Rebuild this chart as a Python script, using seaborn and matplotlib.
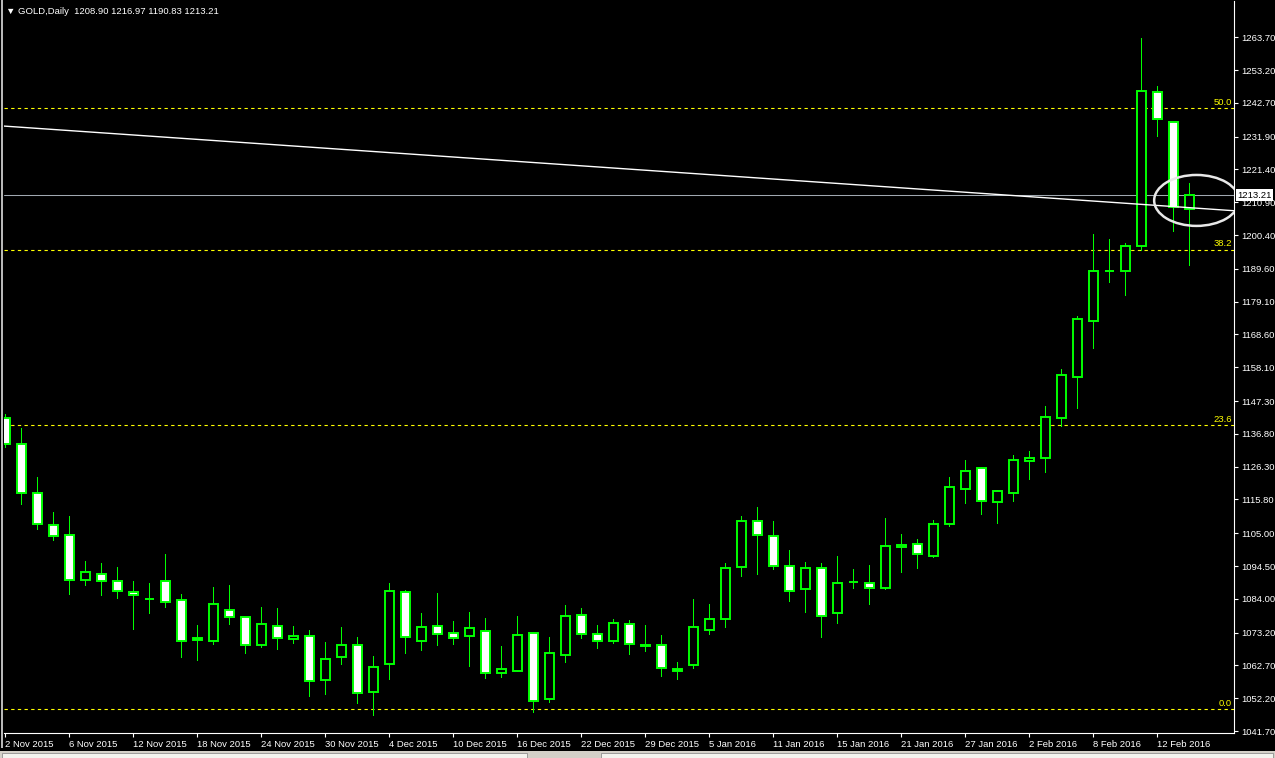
import numpy as np
import pandas as pd
import matplotlib
matplotlib.use('Agg')
import matplotlib.pyplot as plt
import matplotlib.transforms as mtransforms
from matplotlib.patches import Ellipse, Rectangle
import seaborn as sns

# GOLD daily bars, 2 Nov 2015 - 16 Feb 2016
opens = [1141.8, 1133.5, 1117.8, 1107.5, 1104.3, 1089.9, 1091.8, 1089.6, 1086.1, 1084.1,
         1089.6, 1083.5, 1071.4, 1070.4, 1080.3, 1078.1, 1069.1, 1075.2, 1071.0, 1072.0,
         1057.9, 1065.3, 1069.1, 1054.1, 1063.1, 1086.1, 1070.6, 1075.2, 1073.0, 1072.0,
         1073.6, 1060.2, 1061.0, 1073.0, 1052.1, 1065.9, 1078.7, 1072.7, 1070.4, 1075.9,
         1069.0, 1069.1, 1061.7, 1062.7, 1073.9, 1077.5, 1094.1, 1108.8, 1104.0, 1094.4,
         1087.1, 1093.8, 1079.4, 1089.3, 1089.2, 1087.4, 1100.5, 1101.5, 1097.6, 1107.9,
         1119.3, 1125.8, 1114.9, 1117.8, 1128.0, 1129.0, 1141.8, 1155.1, 1172.8, 1188.8,
         1188.8, 1196.8, 1246.1, 1236.5, 1208.90]
highs = [1143.2, 1138.7, 1123.0, 1111.8, 1110.5, 1096.1, 1095.5, 1094.2, 1089.7, 1089.1,
         1098.4, 1085.6, 1075.6, 1087.8, 1088.4, 1078.3, 1081.4, 1081.1, 1075.3, 1074.0,
         1070.2, 1075.0, 1071.8, 1065.7, 1089.1, 1086.8, 1079.5, 1085.9, 1076.9, 1079.8,
         1077.9, 1068.9, 1078.5, 1073.4, 1071.8, 1082.0, 1081.1, 1075.6, 1077.6, 1077.2,
         1075.6, 1072.4, 1063.8, 1084.0, 1082.4, 1095.5, 1110.4, 1113.3, 1108.8, 1099.5,
         1095.7, 1095.4, 1097.6, 1093.5, 1094.7, 1109.8, 1104.7, 1103.1, 1109.1, 1122.9,
         1128.3, 1126.1, 1118.7, 1129.9, 1131.2, 1145.7, 1157.6, 1174.5, 1200.8, 1199.2,
         1197.8, 1263.5, 1248.1, 1236.5, 1216.97]
lows = [1132.7, 1114.5, 1106.5, 1102.9, 1085.7, 1088.5, 1085.3, 1084.4, 1074.2, 1079.6,
        1081.5, 1065.5, 1064.5, 1069.7, 1076.1, 1066.8, 1068.6, 1068.1, 1070.0, 1053.0,
        1053.4, 1063.3, 1050.8, 1046.7, 1058.3, 1066.6, 1067.6, 1069.2, 1069.7, 1062.6,
        1058.8, 1059.1, 1060.8, 1047.9, 1051.1, 1063.9, 1071.6, 1068.4, 1070.0, 1066.5,
        1067.4, 1059.4, 1058.5, 1062.0, 1072.9, 1075.1, 1091.4, 1092.1, 1093.7, 1083.4,
        1079.9, 1071.7, 1076.4, 1087.6, 1082.5, 1087.2, 1092.5, 1094.0, 1097.3, 1107.2,
        1114.8, 1111.3, 1108.4, 1115.4, 1122.5, 1124.5, 1139.4, 1145.2, 1164.4, 1185.5,
        1181.3, 1195.6, 1232.2, 1201.7, 1190.83]
closes = [1133.5, 1117.8, 1107.9, 1104.0, 1089.9, 1092.5, 1089.6, 1086.4, 1085.1, 1084.0,
          1082.9, 1070.4, 1070.8, 1082.4, 1078.1, 1069.1, 1075.9, 1071.4, 1072.0, 1057.6,
          1064.6, 1069.1, 1053.8, 1062.1, 1086.4, 1071.7, 1074.9, 1072.9, 1071.6, 1074.6,
          1060.2, 1061.4, 1072.3, 1051.2, 1066.6, 1078.4, 1072.7, 1070.4, 1076.2, 1069.5,
          1069.1, 1061.8, 1060.8, 1074.9, 1077.5, 1093.8, 1108.8, 1104.3, 1094.4, 1086.4,
          1093.8, 1078.4, 1089.0, 1089.4, 1087.4, 1100.8, 1101.1, 1098.3, 1107.9, 1119.7,
          1124.8, 1115.2, 1118.4, 1128.3, 1129.0, 1142.3, 1155.5, 1173.5, 1188.8, 1188.9,
          1196.8, 1246.4, 1237.4, 1209.4, 1213.21]

holidays = ['2015-12-25', '2016-01-01']
price_ticks = [1263.70, 1253.20, 1242.70, 1231.90, 1221.40, 1210.90, 1200.40, 1189.60,
               1179.10, 1168.60, 1158.10, 1147.30, 1136.80, 1126.30, 1115.80, 1105.00,
               1094.50, 1084.00, 1073.20, 1062.70, 1052.20, 1041.70]
fib_labels = ['0.0', '23.6', '38.2', '50.0']
fib_prices = [1048.7, 1139.5, 1195.6, 1241.0]
trend_bars = [-0.1, 76.8]
trend_prices = [1235.3, 1208.2]
last_price = 1213.21
circle_center = (74.45, 1211.5)
circle_size = (5.3, 16.3)

GREEN = '#00ff00'
YELLOW = '#ffff00'
W, H = 1275, 758


def main():
    sns.set_theme(style='dark', rc={'axes.facecolor': 'black', 'figure.facecolor': 'black'})
    plt.rcParams['font.family'] = ['Liberation Sans', 'DejaVu Sans']

    dates = pd.bdate_range('2015-11-02', '2016-02-16')
    dates = dates[~dates.isin(pd.to_datetime(holidays))]
    df = pd.DataFrame({'date': dates, 'open': opens, 'high': highs,
                       'low': lows, 'close': closes})
    df['bar'] = np.arange(len(df))
    bull = df['close'] >= df['open']

    fig = plt.figure(figsize=(W / 100, H / 100), dpi=100, facecolor='black')
    ax = fig.add_axes([4 / W, 24.7 / H, 1230 / W, 732.3 / H])
    ax.set_facecolor('black')

    # candles
    ax.vlines(df['bar'], df['low'], df['high'], color=GREEN, lw=0.68,
              antialiased=False, zorder=2)
    ax.bar(df['bar'], (df['close'] - df['open']).abs(),
           bottom=df[['open', 'close']].min(axis=1), width=0.56,
           color=np.where(bull, 'black', 'white'), edgecolor=GREEN,
           linewidth=1.4, zorder=3)

    # fibo levels
    blend = mtransforms.blended_transform_factory(ax.transAxes, ax.transData)
    for lbl, p in zip(fib_labels, fib_prices):
        ax.axhline(p, color=YELLOW, lw=0.8, ls=(0, (3, 3)), zorder=1)
        ax.annotate(lbl, xy=(1, p), xycoords=blend, xytext=(-1.5, 1.2),
                    textcoords='offset points', ha='right', va='bottom',
                    color=YELLOW, fontsize=6.8)

    # bid line, trend line, circle
    ax.axhline(last_price, color='#a0a8b0', lw=0.75, zorder=1.5)
    sns.lineplot(x=trend_bars, y=trend_prices, ax=ax, color='white', lw=1.0, zorder=4)
    ax.add_patch(Ellipse(circle_center, circle_size[0], circle_size[1], fill=False,
                         ec='#e8e8e8', lw=1.8, zorder=5))

    ax.set_xlim(-0.081, 76.79)
    ax.set_ylim(1040.98, 1275.32)
    ax.grid(False)

    # axes
    ax.yaxis.tick_right()
    ax.set_yticks(price_ticks)
    ax.set_yticklabels([f'{v:.2f}' for v in price_ticks])
    ax.tick_params(axis='y', colors='white', length=3, width=0.8, pad=2,
                   labelsize=6.8, direction='out', right=True, left=False)
    idx = list(range(0, len(df), 4))
    ax.set_xticks(idx)
    ax.set_xticklabels([f"{d.day} {d.strftime('%b %Y')}" for d in df['date'].iloc[idx]])
    ax.tick_params(axis='x', colors='white', length=3, width=0.8, pad=1.5,
                   labelsize=6.8, direction='out', bottom=True)
    for t in ax.get_xticklabels():
        t.set_ha('left')
    for side in ['top', 'left']:
        ax.spines[side].set_visible(False)
    for side in ['right', 'bottom']:
        ax.spines[side].set_color('white')
        ax.spines[side].set_linewidth(0.8)

    ax.annotate(f'{last_price:.2f}', xy=(1, last_price), xycoords=blend,
                xytext=(2.2, 0), textcoords='offset points', ha='left', va='center',
                fontsize=6.8, color='black', zorder=6, annotation_clip=False,
                bbox=dict(boxstyle='square,pad=0.12', fc='white', ec='none'))

    fig.text(6 / W, 1 - 11 / H, '\u25bc GOLD,Daily  1208.90 1216.97 1190.83 1213.21',
             color='white', fontsize=6.8, va='center')

    # window frame bits
    fig.add_artist(Rectangle((1 / W, 10 / H), 2 / W, 1 - 10 / H, color='#b8b8b8', lw=0))
    fig.add_artist(Rectangle((0, 0), 1, 7 / H, color='#d4d0c8', lw=0))
    fig.add_artist(Rectangle((2 / W, 0.5 / H), 525 / W, 5 / H, fc='#f4f3ee', ec='#808080', lw=0.5))
    fig.add_artist(Rectangle((601 / W, 0.5 / H), 672 / W, 5 / H, fc='#f4f3ee', ec='#808080', lw=0.5))

    fig.savefig('out.png', dpi=100, facecolor='black')


if __name__ == '__main__':
    main()
